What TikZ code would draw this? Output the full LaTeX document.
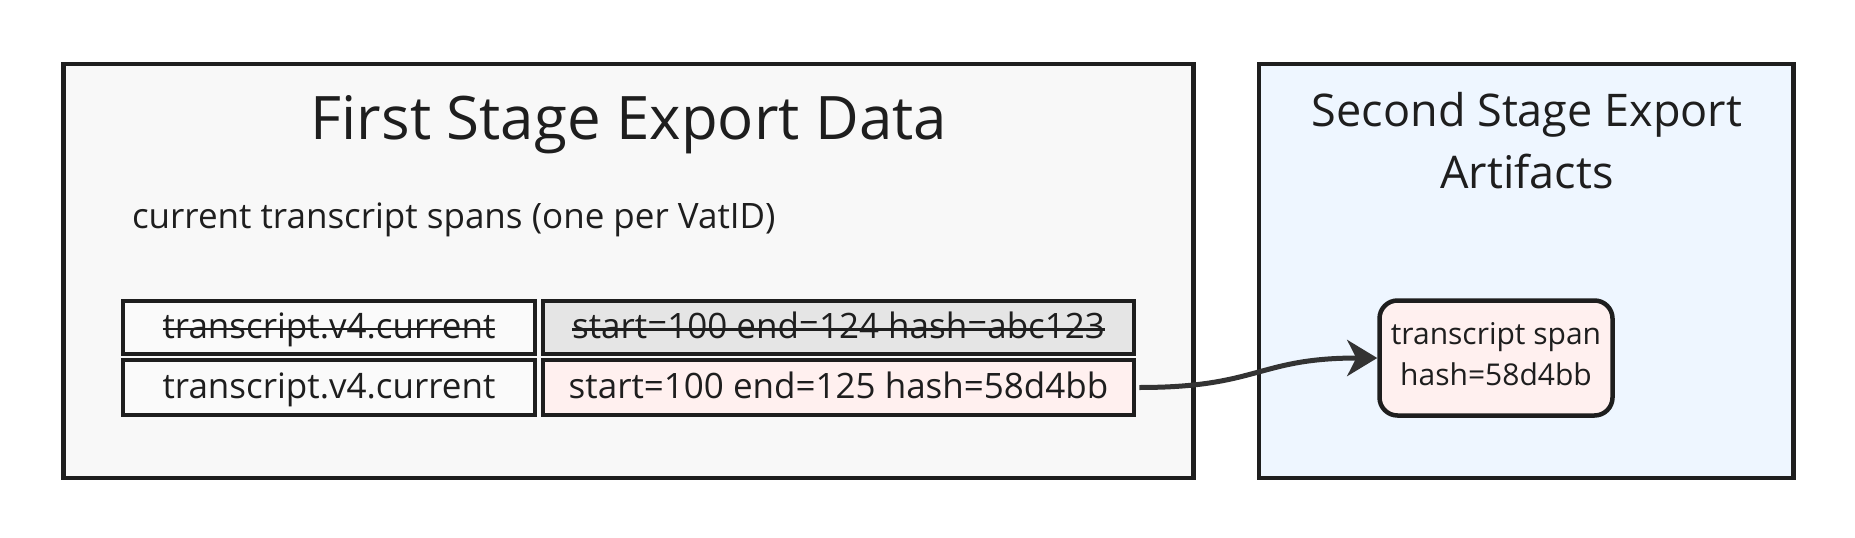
\documentclass[tikz,border=0pt]{standalone}
\usepackage{fontspec}
\setmainfont{Open Sans}
\usetikzlibrary{arrows.meta}
\newcommand\strikeout[1]{\setbox0\hbox{#1}\leavevmode\rlap{\rule[\dimexpr0.5ex-1.25pt\relax]{\wd0}{2.5pt}}\box0}
\definecolor{ink}{HTML}{1E1E1E}
\definecolor{arrowc}{HTML}{333333}
\definecolor{boxgray}{HTML}{F8F8F8}
\definecolor{boxblue}{HTML}{EEF6FF}
\definecolor{cellwhite}{HTML}{FAFAFA}
\definecolor{cellgray}{HTML}{E5E5E5}
\definecolor{cellpink}{HTML}{FFF0EF}
\tikzset{
  group/.style={draw=ink, line width=4.5pt},
  cell/.style={draw=ink, line width=4.5pt, inner sep=0pt, text=ink,
    font=\fontsize{35}{42}\selectfont},
  spanbox/.style={draw=ink, line width=4.5pt, rounded corners=18pt, fill=cellpink,
    minimum width=233pt, minimum height=115pt, inner sep=0pt},
  spantext/.style={align=center, inner sep=0pt, text=ink, font=\fontsize{30}{41}\selectfont},
  link/.style={draw=arrowc, line width=5pt, -{Stealth[length=30pt, width=36pt, inset=9pt]}}
}
\begin{document}
\begin{tikzpicture}[x=1pt, y=-1pt]
  \fill[white] (0,0) rectangle (1855,538);
  \useasboundingbox (0,0) rectangle (1855,538);
  % group boxes
  \draw[group, fill=boxgray] (63.5,64) rectangle (1193.5,478);
  \draw[group, fill=boxblue] (1259,64) rectangle (1793.5,478);
  % titles
  \node[anchor=base, text=ink, font=\fontsize{60}{70}\selectfont] (t1) at (629,139) {First Stage Export Data};
  \node[anchor=base west, text=ink, font=\fontsize{35}{42}\selectfont] (sub) at (128.5,228) {current transcript spans (one per VatID)};
  \node[anchor=base, text=ink, font=\fontsize{45}{55}\selectfont] (t2a) at (1527,126) {Second Stage Export};
  \node[anchor=base, text=ink, font=\fontsize{45}{55}\selectfont] (t2b) at (1527,188) {Artifacts};
  % table cells
  \node[cell, fill=cellwhite, minimum width=412pt, minimum height=53pt, text depth=4pt] (c11) at (329,327.5) {\strikeout{transcript.v4.current}};
  \node[cell, fill=cellgray, minimum width=591pt, minimum height=53pt, text depth=4pt] (c12) at (838.5,327.5) {\strikeout{start=100 end=124 hash=abc123}};
  \node[cell, fill=cellwhite, minimum width=412pt, minimum height=55pt, text depth=4pt] (c21) at (329,387.5) {transcript.v4.current};
  \node[cell, fill=cellpink, minimum width=591pt, minimum height=55pt, text depth=4pt] (c22) at (838.5,387.5) {start=100 end=125 hash=58d4bb};
  % artifact node
  \node[spanbox] (span) at (1496,358) {};
  \node[spantext] (spantxt) at ([yshift=3.5pt]span.center) {transcript span\\hash=58d4bb};
  % connector
  \draw[link] ([xshift=3pt]c22.east) .. controls +(120,0) and +(-120,0) .. (span.west);
\end{tikzpicture}
\end{document}
